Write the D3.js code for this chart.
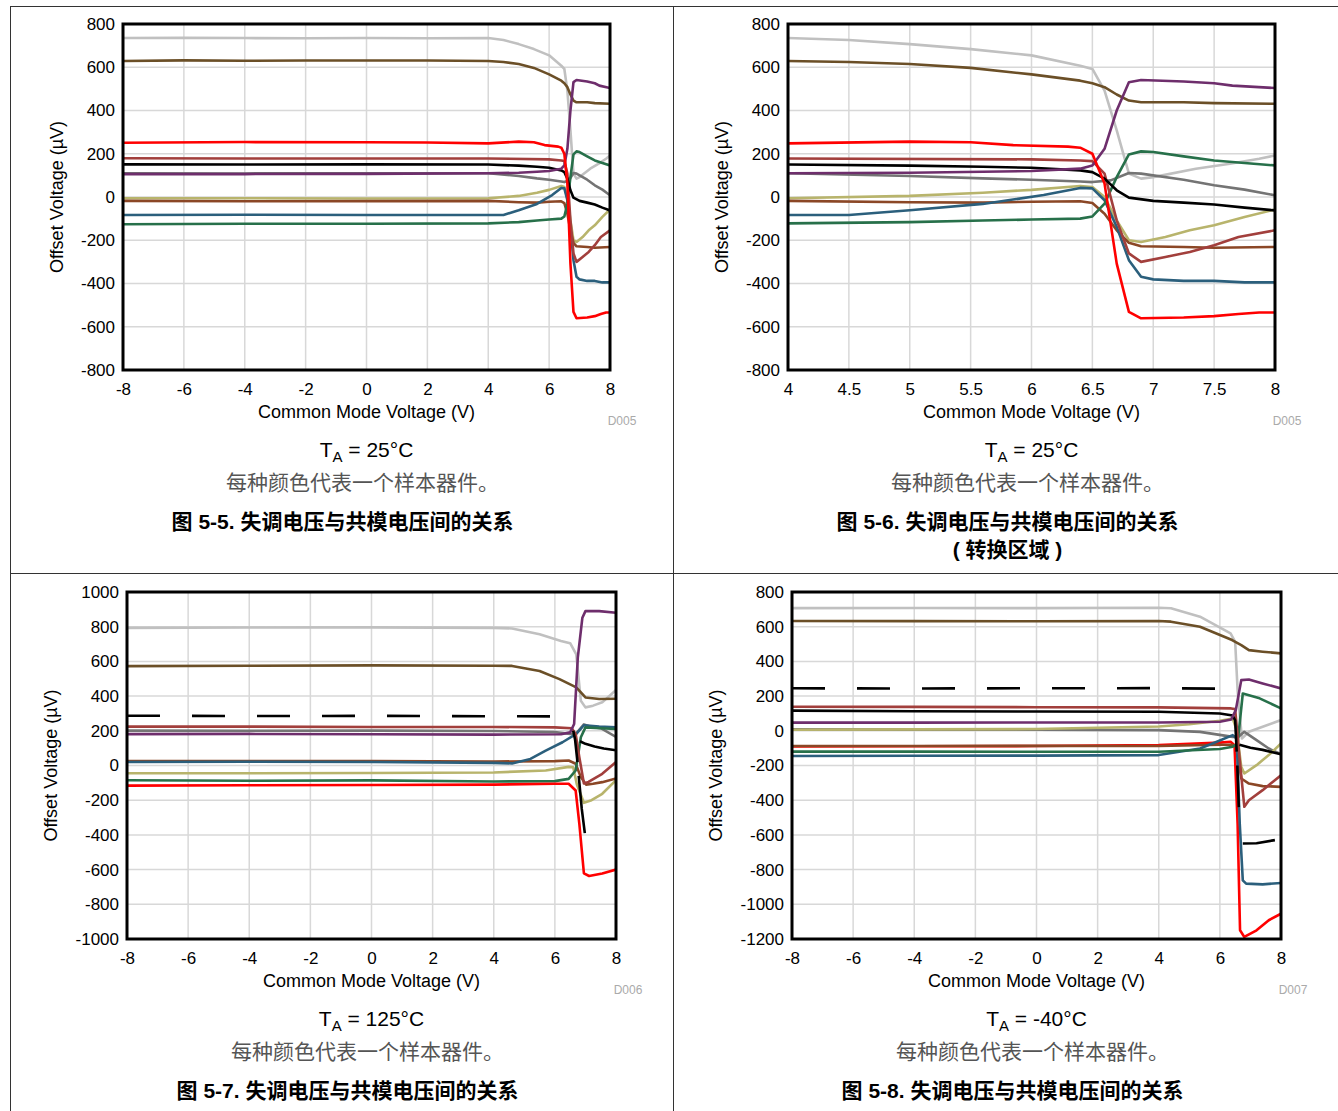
<!DOCTYPE html>
<html><head><meta charset="utf-8">
<script src="https://cdn.jsdelivr.net/npm/d3@7"></script>
<style>body{margin:0;background:#fff}svg{display:block}</style>
</head><body>
<svg id="c" width="1338" height="1111"></svg>
<script>
// ---------- DATA ----------
const seriesNames = ["lightgray","brown","gray","khaki","sienna","teal","green","brick","black","purple","red"];
const seriesColors = ["#c0c0c0","#6b4f27","#747474","#b8b46c","#8b4726","#2b5f7c","#27704a","#a23f3c","#000000","#6e2e6c","#ff0000"];

const xTicksWide = [-8,-6,-4,-2,0,2,4,6,8];
const xTicksZoom = [4,4.5,5,5.5,6,6.5,7,7.5,8];
const yTicks800 = [-800,-600,-400,-200,0,200,400,600,800];
const yTicks1000 = [-1000,-800,-600,-400,-200,0,200,400,600,800,1000];
const yTicksM40 = [-1200,-1000,-800,-600,-400,-200,0,200,400,600,800];

// TA = 25°C (used by Fig 5-5 and Fig 5-6), order = seriesNames
const data25C = [
  [[-8,735],[-6,736],[-4,735],[-2,734],[0,735],[2,734],[4,735],[4.5,726],[5,707],[5.5,684],[6,655],[6.4,607],[6.5,592],[6.6,492],[6.7,308],[6.8,108],[6.9,85],[7,92],[7.35,131],[7.63,154],[7.87,177],[8,192]],
  [[-8,629],[-6,632],[-4,630],[-2,631],[0,631],[2,631],[4,629],[4.5,624],[5,615],[5.5,597],[6,567],[6.4,538],[6.5,526],[6.6,508],[6.7,474],[6.8,446],[6.9,438],[7.25,438],[7.5,434],[8,431]],
  [[-8,110],[-4,109],[0,110],[4,110],[5,97],[5.6,86],[6,80],[6.4,72],[6.5,69],[6.65,77],[6.8,111],[6.9,108],[7.25,80],[7.5,54],[7.75,34],[8,8]],
  [[-8,-6],[-4,-6],[0,-7],[4,-6],[5,5],[5.6,20],[6,33],[6.4,51],[6.5,46],[6.6,0],[6.7,-108],[6.8,-200],[6.9,-208],[7.1,-185],[7.3,-154],[7.5,-131],[7.75,-92],[8,-58]],
  [[-8,-18],[-4,-20],[0,-19],[4,-18],[5,-24],[5.6,-26],[6,-22],[6.4,-20],[6.5,-28],[6.6,-77],[6.7,-154],[6.8,-212],[6.9,-228],[7.25,-231],[7.5,-235],[8,-231]],
  [[-8,-83],[-4,-82],[0,-83],[4,-83],[4.5,-83],[5,-61],[5.6,-32],[6.1,9],[6.4,42],[6.5,40],[6.6,-15],[6.7,-138],[6.8,-292],[6.9,-369],[7,-381],[7.25,-388],[7.5,-388],[7.75,-395],[8,-395]],
  [[-8,-126],[-4,-124],[0,-124],[4,-122],[5,-116],[5.6,-109],[6,-104],[6.4,-100],[6.5,-90],[6.6,-31],[6.7,92],[6.8,197],[6.9,211],[7,208],[7.25,188],[7.5,169],[7.75,157],[8,146]],
  [[-8,179],[-4,178],[0,178],[4,178],[6,174],[6.4,169],[6.5,166],[6.6,108],[6.7,-108],[6.8,-261],[6.9,-300],[7.1,-277],[7.3,-254],[7.5,-223],[7.7,-185],[8,-154]],
  [[-8,151],[-4,150],[0,151],[4,150],[5,145],[5.6,140],[6,135],[6.4,123],[6.5,115],[6.6,85],[6.7,31],[6.8,-3],[7,-18],[7.25,-26],[7.5,-35],[7.75,-49],[8,-62]],
  [[-8,106],[-4,106],[0,107],[4,110],[5,112],[5.6,117],[6,120],[6.4,131],[6.5,146],[6.6,223],[6.7,400],[6.8,531],[6.9,541],[7.25,534],[7.5,526],[7.65,515],[8,504]],
  [[-8,251],[-4,254],[0,253],[2,252],[4,248],[5,256],[5.5,253],[5.85,240],[6.3,233],[6.4,228],[6.5,200],[6.6,62],[6.7,-308],[6.8,-531],[6.9,-561],[7.25,-557],[7.5,-551],[7.7,-541],[7.87,-534],[8,-534]]
];

// TA = 125°C (Fig 5-7)
const data125C = [
  [[-8,793],[-4,795],[0,796],[4,793],[4.6,790],[5.5,756],[6.2,718],[6.5,705],[6.7,640],[6.85,373],[7,335],[7.25,345],[7.55,364],[8,435]],
  [[-8,573],[-4,575],[0,577],[4,575],[4.6,574],[5.5,545],[6.15,498],[6.7,450],[7,392],[7.45,383],[8,385]],
  [[-8,201],[-4,200],[0,201],[4,199],[6,193],[6.5,182],[6.7,185],[6.95,237],[7.2,222],[7.5,215],[8,165]],
  [[-8,-45],[-4,-45],[0,-43],[4,-40],[5.7,-29],[6.45,-8],[6.6,-10],[6.72,-110],[6.95,-215],[7.2,-200],[7.55,-163],[8,-84]],
  [[-8,26],[-4,25],[0,25],[4,23],[6,25],[6.45,29],[6.68,10],[6.85,-67],[7.02,-110],[7.25,-105],[7.55,-96],[8,-75]],
  [[-8,20],[-4,22],[0,20],[4,15],[4.6,12],[5.2,38],[5.7,86],[6.25,134],[6.7,182],[6.95,232],[7.45,224],[8,220]],
  [[-8,-85],[-4,-88],[0,-86],[4,-92],[6,-90],[6.45,-77],[6.68,-29],[6.85,163],[7,220],[7.5,215],[8,210]],
  [[-8,224],[-4,224],[0,222],[4,222],[6,220],[6.55,215],[6.68,182],[6.8,48],[6.95,-104],[7.1,-95],[7.55,-48],[8,20]],
  [[6.6,200],[6.66,150],[6.74,20],null,[6.78,-60],[6.88,-250],[6.98,-390],null,[6.82,140],[7,125],[7.3,110],[7.6,98],[8,88]],
  [[-8,181],[-4,182],[0,180],[4,178],[6.2,180],[6.5,191],[6.63,239],[6.75,622],[6.9,852],[7,890],[7.45,890],[8,880]],
  [[-8,-116],[-4,-114],[0,-112],[4,-110],[6,-105],[6.45,-105],[6.68,-144],[6.8,-335],[6.95,-622],[7.12,-637],[7.55,-622],[8,-600]]
];
const dashed125C = [[-8,287],[-4,285],[0,286],[4,284],[5.85,283]];

// TA = -40°C (Fig 5-8)
const dataM40C = [
  [[-8,707],[-4,708],[0,707],[4,709],[4.4,706],[5.35,658],[6.35,562],[6.5,513],[6.58,235],[6.72,-44],[6.95,-6],[7.4,23],[8,62]],
  [[-8,633],[-4,632],[0,631],[4,633],[4.4,629],[5.35,600],[6.4,523],[6.7,494],[6.95,465],[7.4,456],[8,446]],
  [[-8,8],[-4,7],[0,6],[4,4],[5.35,-6],[6.42,-35],[6.6,-35],[6.8,-6],[7.2,-54],[7.6,-102],[8,-135]],
  [[-8,6],[-4,8],[0,10],[4,25],[5,38],[6,58],[6.42,71],[6.55,4],[6.7,-208],[6.8,-246],[7.2,-198],[7.6,-140],[8,-73]],
  [[-8,-88],[-4,-88],[0,-87],[4,-88],[6,-80],[6.4,-80],[6.55,-92],[6.7,-275],[6.95,-304],[7.4,-319],[8,-323]],
  [[-8,-145],[-4,-144],[0,-143],[4,-140],[5.35,-102],[5.9,-63],[6.42,-25],[6.55,-44],[6.65,-535],[6.75,-862],[6.86,-881],[7.4,-885],[8,-877]],
  [[-8,-120],[-4,-120],[0,-121],[4,-121],[6,-105],[6.42,-92],[6.58,-73],[6.75,215],[7.3,187],[8,129]],
  [[-8,139],[-4,138],[0,136],[4,135],[6.37,129],[6.5,125],[6.64,-150],[6.8,-438],[6.95,-400],[7.4,-342],[8,-256]],
  [[-8,116],[-4,113],[0,111],[4,110],[6,100],[6.42,88],[6.5,60],[6.55,-120],null,[6.57,-200],[6.62,-440],null,[6.64,-80],[7,-98],[7.4,-110],[8,-135],null,[6.75,-650],[7.2,-648],[7.8,-630]],
  [[-8,47],[-4,47],[0,48],[4,48],[6,52],[6.37,65],[6.52,119],[6.7,292],[6.95,296],[7.4,273],[8,244]],
  [[-8,-90],[-4,-89],[0,-88],[4,-82],[6,-68],[6.35,-63],[6.48,-83],[6.58,-535],[6.66,-1150],[6.8,-1188],[7.2,-1150],[7.6,-1092],[8,-1054]]
];
const dashedM40C = [[-8,245],[-4,244],[0,245],[4,246],[5.9,243]];

// ---------- DRAW ----------
const svg = d3.select("#c");
const FONT = "'Liberation Sans', Arial, 'Noto Sans CJK SC', sans-serif";
const CJK = "'Liberation Sans', 'Noto Sans CJK SC', sans-serif";

// page frame
const frame = svg.append("g").attr("stroke","#333").attr("stroke-width",1).attr("shape-rendering","crispEdges");
[[10,6.5,1338,6.5],[10.5,6,10.5,1111],[673.5,6,673.5,1111],[10,573.5,1338,573.5]].forEach(l=>{
  frame.append("line").attr("x1",l[0]).attr("y1",l[1]).attr("x2",l[2]).attr("y2",l[3]);
});

const orderDefault = [0,1,2,3,4,5,6,7,8,9,10];
const orderRedUnder = [10,0,1,2,3,4,5,6,7,8,9];

const panels = [
  {L:123,R:610,T:24,B:370,xd:[-8,8],yd:[-800,800],xt:xTicksWide,yt:yTicks800,data:data25C,dash:null,code:"D005",ta:"25°C",order:orderDefault,cap:["图 5-5. 失调电压与共模电压间的关系"]},
  {L:788,R:1275,T:24,B:370,xd:[4,8],yd:[-800,800],xt:xTicksZoom,yt:yTicks800,data:data25C,dash:null,code:"D005",ta:"25°C",order:orderDefault,cap:["图 5-6. 失调电压与共模电压间的关系","( 转换区域 )"]},
  {L:127,R:616,T:592,B:939,xd:[-8,8],yd:[-1000,1000],xt:xTicksWide,yt:yTicks1000,data:data125C,dash:dashed125C,code:"D006",ta:"125°C",order:orderDefault,cap:["图 5-7. 失调电压与共模电压间的关系"]},
  {L:792,R:1281,T:592,B:939,xd:[-8,8],yd:[-1200,800],xt:xTicksWide,yt:yTicksM40,data:dataM40C,dash:dashedM40C,code:"D007",ta:"-40°C",order:orderRedUnder,cap:["图 5-8. 失调电压与共模电压间的关系"]}
];

panels.forEach((p,i)=>{
  const x = d3.scaleLinear().domain(p.xd).range([p.L,p.R]);
  const y = d3.scaleLinear().domain(p.yd).range([p.B,p.T]);
  const g = svg.append("g");
  const cid = "clip"+i;
  svg.append("clipPath").attr("id",cid).append("rect")
    .attr("x",p.L).attr("y",p.T).attr("width",p.R-p.L).attr("height",p.B-p.T);

  // grid
  const grid = g.append("g").attr("stroke","#d8d8d8").attr("stroke-width",1.5);
  p.xt.forEach(t=>grid.append("line").attr("x1",x(t)).attr("x2",x(t)).attr("y1",p.T).attr("y2",p.B));
  p.yt.forEach(t=>grid.append("line").attr("y1",y(t)).attr("y2",y(t)).attr("x1",p.L).attr("x2",p.R));

  // axes labels
  const ax = g.append("g").attr("transform",`translate(0,${p.B})`)
    .call(d3.axisBottom(x).tickValues(p.xt).tickSize(0).tickPadding(13).tickFormat(d=>String(d)));
  ax.select(".domain").remove();
  ax.selectAll("text").attr("font-family",FONT).attr("font-size",17).attr("fill","#000");
  const ay = g.append("g").attr("transform",`translate(${p.L},0)`)
    .call(d3.axisLeft(y).tickValues(p.yt).tickSize(0).tickPadding(8).tickFormat(d=>String(d)));
  ay.select(".domain").remove();
  ay.selectAll("text").attr("font-family",FONT).attr("font-size",17).attr("fill","#000");

  // series
  const line = d3.line().defined(d=>d!==null).x(d=>x(d[0])).y(d=>y(d[1]));
  const sg = g.append("g").attr("clip-path",`url(#${cid})`).attr("fill","none")
    .attr("stroke-width",2.6).attr("stroke-linejoin","round").attr("stroke-linecap","butt");
  if(p.dash){
    sg.append("path").datum(p.dash).attr("d",line).attr("stroke","#000").attr("stroke-dasharray","33,32");
  }
  p.order.forEach(k=>{
    sg.append("path").datum(p.data[k]).attr("d",line).attr("stroke",seriesColors[k]);
  });

  // plot frame
  g.append("rect").attr("x",p.L).attr("y",p.T).attr("width",p.R-p.L).attr("height",p.B-p.T)
    .attr("fill","none").attr("stroke","#000").attr("stroke-width",3);

  const cx = (p.L+p.R)/2, cy=(p.T+p.B)/2;
  const ylx = p.L - ((p.yd[0] <= -1000) ? 75 : 65);
  g.append("text").attr("transform",`translate(${ylx},${cy}) rotate(-90)`).attr("text-anchor","middle")
    .attr("dominant-baseline","middle").attr("font-family",FONT).attr("font-size",18).text("Offset Voltage (µV)");
  g.append("text").attr("x",cx).attr("y",p.B+48).attr("text-anchor","middle")
    .attr("font-family",FONT).attr("font-size",18).text("Common Mode Voltage (V)");
  g.append("text").attr("x",p.R+12).attr("y",p.B+55).attr("text-anchor","middle")
    .attr("font-family",FONT).attr("font-size",12).attr("fill","#aaa").text(p.code);
  const ta = g.append("text").attr("x",cx).attr("y",p.B+87).attr("text-anchor","middle")
    .attr("font-family",FONT).attr("font-size",21);
  ta.append("tspan").text("T");
  ta.append("tspan").attr("font-size",15).attr("dy",5).text("A");
  ta.append("tspan").attr("dy",-5).text(" = "+p.ta);
  g.append("text").attr("x",cx-4).attr("y",p.B+120).attr("text-anchor","middle")
    .attr("font-family",CJK).attr("font-size",21).attr("fill","#555").text("每种颜色代表一个样本器件。");
  p.cap.forEach((c,j)=>{
    g.append("text").attr("x",cx-24).attr("y",p.B+159+j*28).attr("text-anchor","middle")
      .attr("font-family",CJK).attr("font-weight","bold").attr("font-size",21).attr("fill","#000").text(c);
  });
});
</script>
</body></html>
